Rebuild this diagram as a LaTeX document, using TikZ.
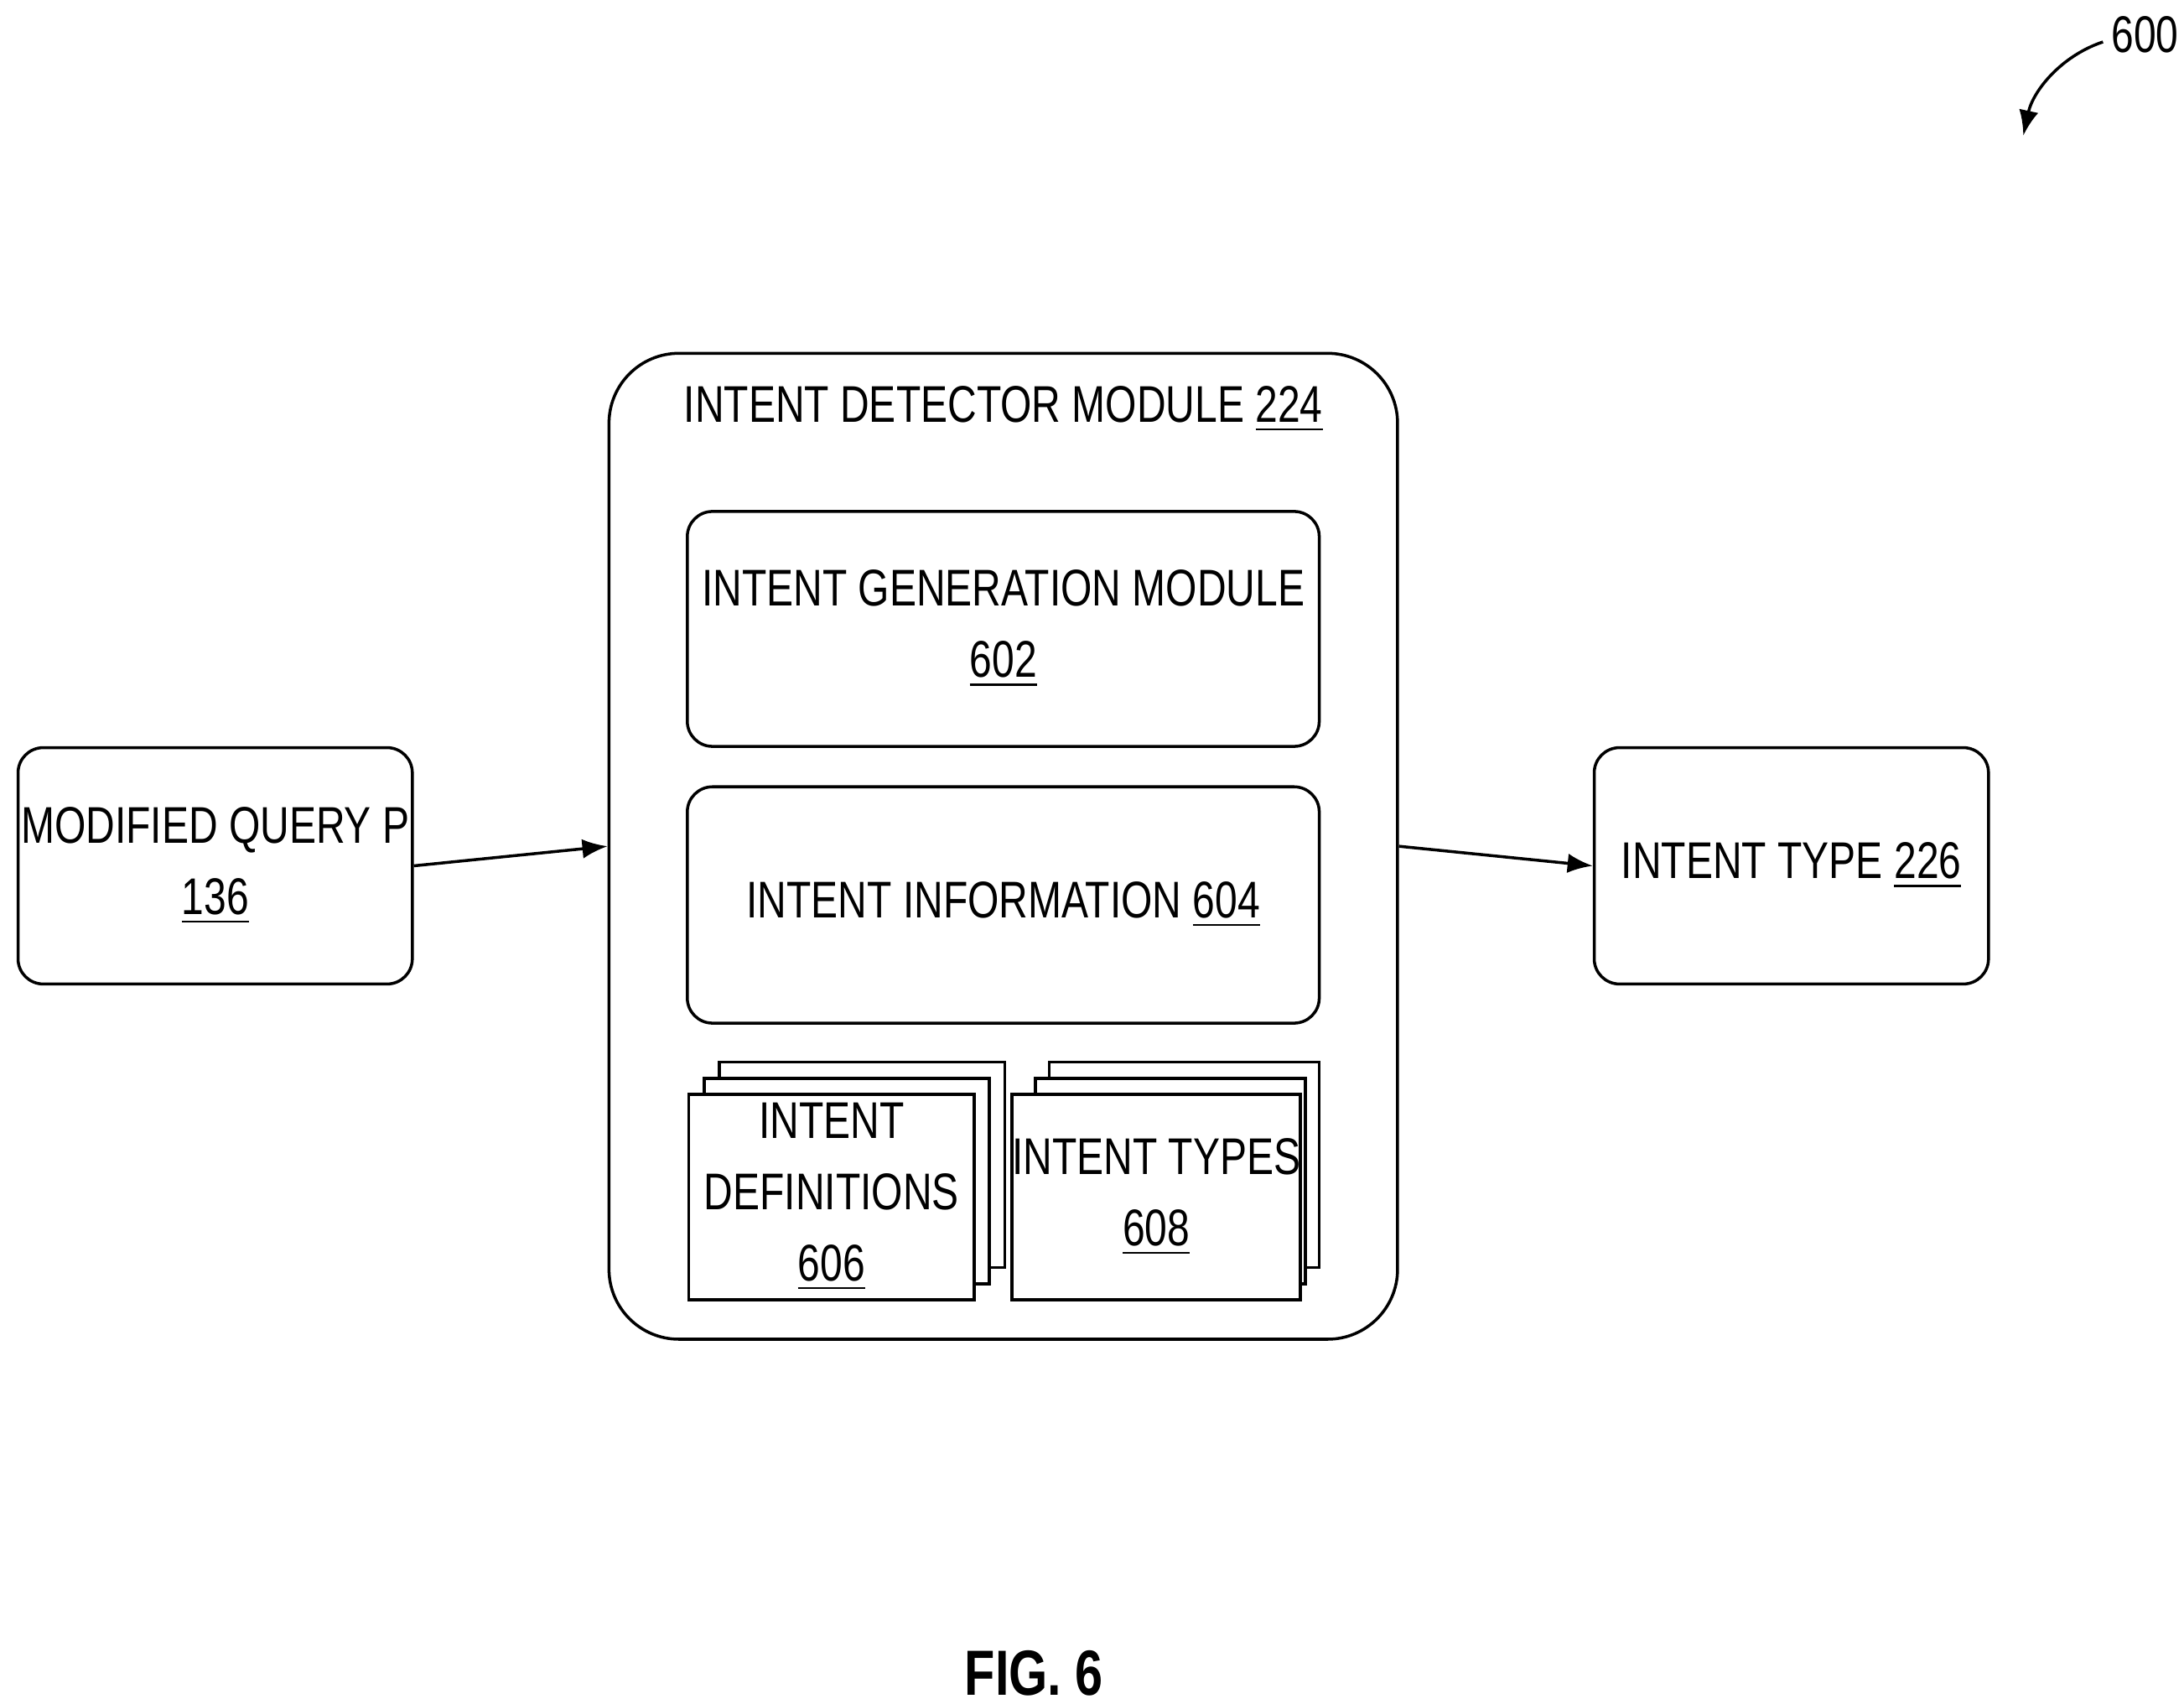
\documentclass[tikz,border=0pt]{standalone}
\usepackage{fontspec}
\setmainfont{Liberation Sans}[FakeStretch=0.78]
\usetikzlibrary{arrows.meta}
\begin{document}
\begin{tikzpicture}[x=0.01cm,y=-0.01cm,
  every node/.style={font=\fontsize{10.5}{14.5}\selectfont,align=center,inner sep=0},
  box/.style={draw,line width=0.6pt,rounded corners=0.18cm},
  doc/.style={draw,line width=0.6pt,fill=white},
  arr/.style={-{Latex[length=0.18cm,width=0.14cm]},line width=0.6pt}]
\useasboundingbox (0,0) rectangle (1563,1219);
\node[box,minimum width=2.82cm,minimum height=1.69cm] (mq) at (154,619.5) {MODIFIED QUERY P\\\underline{136}};
\node[draw,line width=0.6pt,rounded corners=0.5cm,minimum width=5.64cm,minimum height=7.05cm] (idm) at (718,605.5) {};
\node (t) at (718,293) {INTENT DETECTOR MODULE \underline{224}};
\node[box,minimum width=4.52cm,minimum height=1.68cm] (gen) at (718,450) {INTENT GENERATION MODULE\\\underline{602}};
\node[box,minimum width=4.52cm,minimum height=1.69cm] (info) at (718,647.5) {INTENT INFORMATION \underline{604}};
\node[doc,minimum width=2.04cm,minimum height=1.47cm] (d3) at (617,833.5) {};
\node[doc,minimum width=2.04cm,minimum height=1.47cm] (d2) at (606,845) {};
\node[doc,minimum width=2.04cm,minimum height=1.47cm] (d1) at (595,856.5) {INTENT\\DEFINITIONS\\\underline{606}};
\node[doc,minimum width=1.93cm,minimum height=1.47cm] (e3) at (847.5,833.5) {};
\node[doc,minimum width=1.93cm,minimum height=1.47cm] (e2) at (837.5,845) {};
\node[doc,minimum width=1.93cm,minimum height=1.47cm] (e1) at (827.5,856.5) {INTENT TYPES\\\underline{608}};
\node[box,minimum width=2.82cm,minimum height=1.69cm] (it) at (1282,619.5) {INTENT TYPE \underline{226}};
\draw[arr] (mq.east) -- (idm.west);
\draw[arr] (idm.east) -- (it.west);
\node[font=\bfseries\fontsize{13}{15}\selectfont] (fig) at (740,1197) {FIG. 6};
\node (n600) at (1535,25) {600};
\coordinate (a1) at (1505,30);
\draw[arr] (a1) .. controls (1475,40) and (1455,65) .. (1448,97);
\end{tikzpicture}
\end{document}
